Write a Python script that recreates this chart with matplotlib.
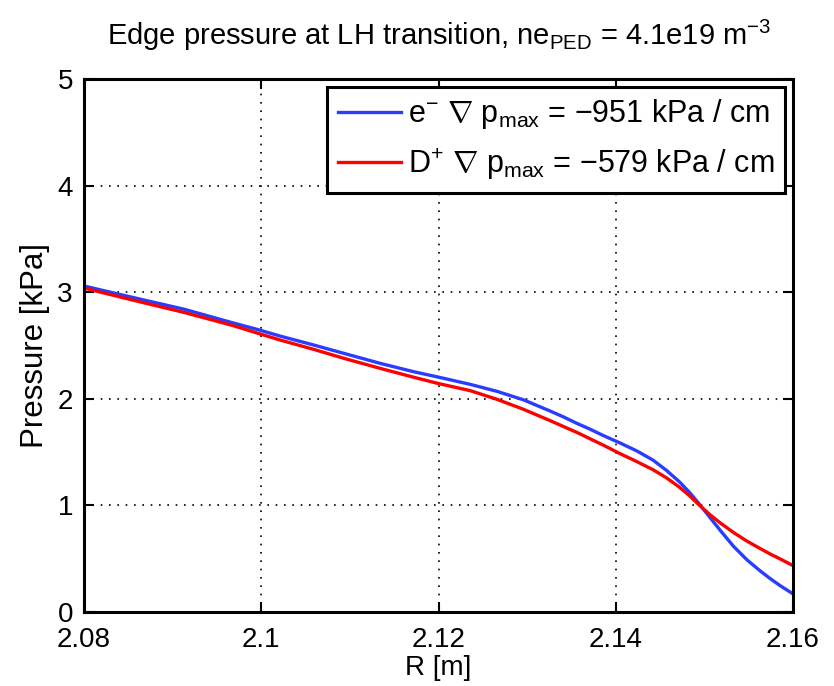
import matplotlib
matplotlib.use("Agg")
import matplotlib.pyplot as plt

# values
r_e = [2.080, 2.0856, 2.0913, 2.0969, 2.0998, 2.1021, 2.1059, 2.1096, 2.1134,
       2.1172, 2.1199, 2.1236, 2.1266, 2.1296, 2.1326, 2.1341, 2.1356, 2.1371,
       2.1386, 2.1405, 2.1424, 2.1442, 2.1457, 2.1472, 2.1484, 2.1495, 2.1506,
       2.1518, 2.1533, 2.1548, 2.1563, 2.1574, 2.1585, 2.160]
p_e = [3.058, 2.949, 2.84, 2.71, 2.645, 2.589, 2.505, 2.420, 2.333,
       2.254, 2.205, 2.135, 2.07, 1.99, 1.885, 1.83, 1.77, 1.715,
       1.655, 1.585, 1.51, 1.425, 1.33, 1.22, 1.115, 1.005, 0.89,
       0.765, 0.615, 0.49, 0.385, 0.315, 0.25, 0.17]
r_d = list(r_e)
p_d = [3.039, 2.924, 2.81, 2.685, 2.61, 2.552, 2.464, 2.373, 2.286,
       2.202, 2.145, 2.076, 1.995, 1.901, 1.795, 1.74, 1.685, 1.625,
       1.565, 1.485, 1.41, 1.335, 1.26, 1.17, 1.085, 0.997, 0.915,
       0.835, 0.745, 0.665, 0.595, 0.545, 0.50, 0.435]
x_ticks = [2.08, 2.10, 2.12, 2.14, 2.16]
x_tick_labels = ["2.08", "2.1", "2.12", "2.14", "2.16"]
y_ticks = [0, 1, 2, 3, 4, 5]
lab_e = "e$^{-}$ $\\nabla$ p$_{\\mathregular{max}}$ = \u2212951 kPa / cm"
lab_d = "D$^{+}$ $\\nabla$ p$_{\\mathregular{max}}$ = \u2212579 kPa / cm"
title = "Edge pressure at LH transition, ne$_{\\mathregular{PED}}$ = 4.1e19 m$^{\\mathregular{-3}}$"

plt.rcParams["font.family"] = ["Liberation Sans", "DejaVu Sans"]
plt.rcParams["mathtext.fontset"] = "custom"
plt.rcParams["mathtext.rm"] = "Liberation Sans"
plt.rcParams["mathtext.it"] = "Liberation Sans:italic"
plt.rcParams["mathtext.bf"] = "Liberation Sans:bold"

fig = plt.figure(figsize=(8.34, 6.86), dpi=100)
ax = fig.add_axes([84 / 834, 1 - 612 / 686, 709 / 834, 533 / 686])

ax.plot(r_e, p_e, color="#2a3cff", lw=2.4, label=lab_e)
ax.plot(r_d, p_d, color="#ff0000", lw=2.4, label=lab_d)

ax.set_xlim(2.08, 2.16); ax.set_ylim(0, 5)
ax.set_xticks(x_ticks); ax.set_xticklabels(x_tick_labels)
ax.set_yticks(y_ticks)
ax.tick_params(direction="in", top=True, right=True, length=7, width=1.5,
               labelsize=20, pad=8)
ax.tick_params(axis="x", pad=11)
ax.grid(True, color="black", ls=(0, (1, 4)), lw=1.2)
for s in ax.spines.values():
    s.set_linewidth(2.2)

ax.set_xlabel("R [m]", fontsize=20, labelpad=1)
ax.set_ylabel("Pressure [kPa]", fontsize=22.5, labelpad=5)
fig.text(0.526, 1 - 35 / 686, title, ha="center", va="center", fontsize=21)

leg = ax.legend(loc="upper right", fontsize=22, frameon=True, fancybox=False,
                framealpha=1, edgecolor="black", handlelength=2.05,
                handletextpad=0.25, borderpad=0.35, labelspacing=0.5,
                borderaxespad=0.25)
leg.get_frame().set_linewidth(2.2)

fig.savefig("out.png", dpi=100)
